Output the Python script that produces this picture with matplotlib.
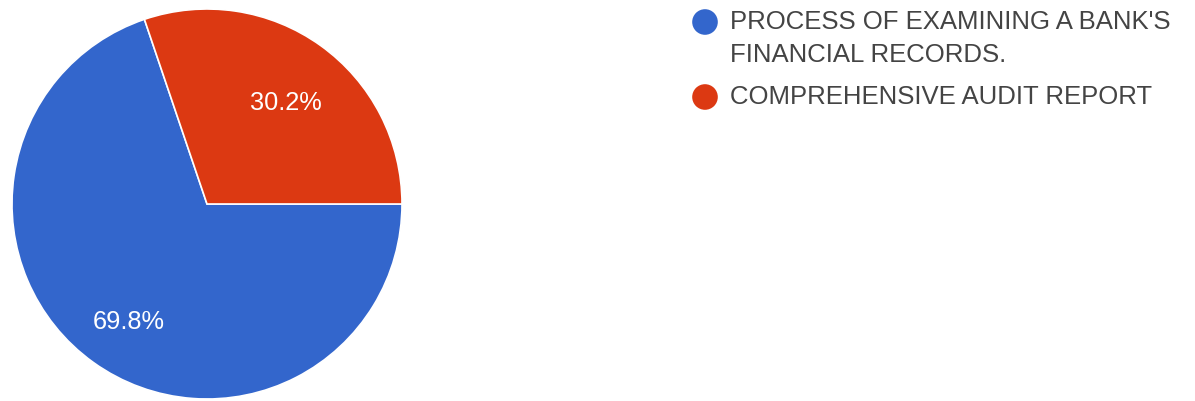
import matplotlib.pyplot as plt

plt.rcParams['font.family'] = ['Liberation Sans', 'DejaVu Sans']

labels = ["PROCESS OF EXAMINING A BANK'S\nFINANCIAL RECORDS.",
          "COMPREHENSIVE AUDIT REPORT"]
shares = [69.8, 30.2]
colors = ['#3366cc', '#dc3912']

W, H = 1195, 402
fig = plt.figure(figsize=(W / 100, H / 100), dpi=100)

# pie: centre at (207, 205) px, radius 195 px
R = 195
cx, cy = 207, 205
ax = fig.add_axes([(cx - R) / W, (H - cy - R) / H, 2 * R / W, 2 * R / H])
start = 360 * shares[1] / 100  # blue wedge starts where the red one ends
wedges, _, autotexts = ax.pie(shares, colors=colors, startangle=start, counterclock=True,
                              autopct='%.1f%%', pctdistance=0.69,
                              wedgeprops=dict(edgecolor='white', linewidth=1.2),
                              textprops=dict(color='white', fontsize=18.3))
# percentage labels sit a little lower than the wedge centroid
for t in autotexts:
    x, y = t.get_position()
    t.set_position((x, y - 0.04))
ax.set_xlim(-1, 1)
ax.set_ylim(-1, 1)
ax.set_aspect('equal')

# legend drawn by hand in pixel coordinates
lax = fig.add_axes([0, 0, 1, 1])
lax.set_xlim(0, W)
lax.set_ylim(H, 0)
lax.axis('off')
y = 22
for lab, col in zip(labels, colors):
    lax.scatter([705], [y + 1], s=340, color=col, edgecolors='none')
    for k, line in enumerate(lab.split('\n')):
        lax.text(730, y + k * 33, line, fontsize=18.5, color='#444444', va='center', ha='left')
    y += 33 * (lab.count('\n') + 1) + 9

fig.savefig('out.png', dpi=100, facecolor='white')
